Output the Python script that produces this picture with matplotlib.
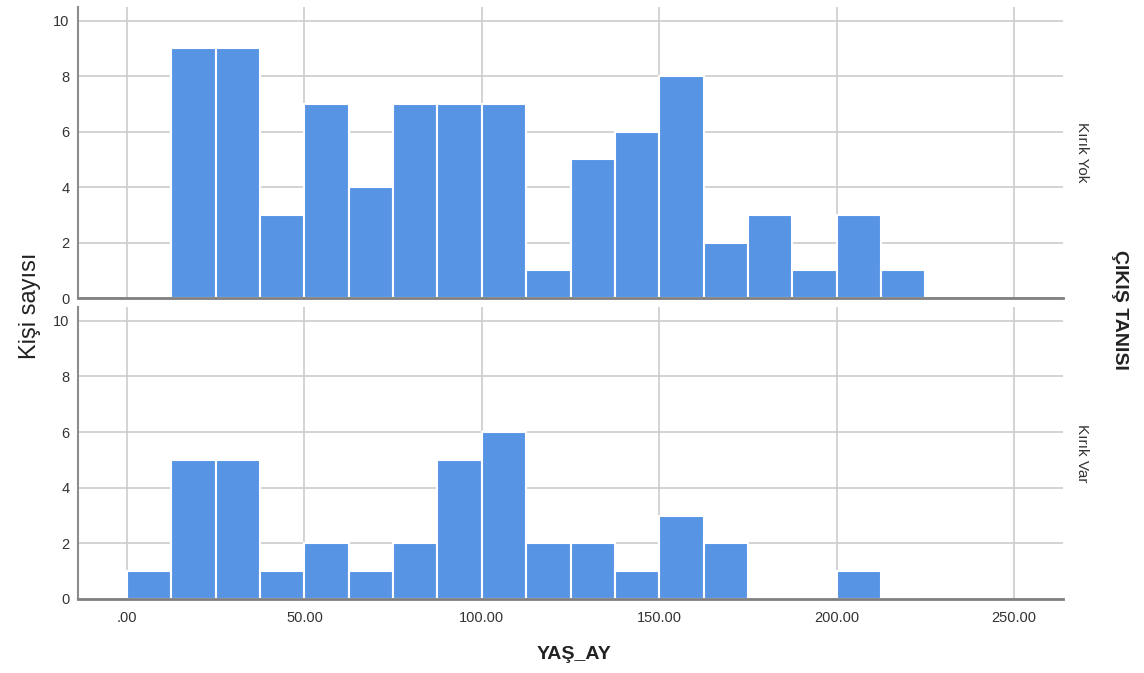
import numpy as np
import matplotlib.pyplot as plt

plt.rcParams['font.family'] = ['Liberation Sans', 'DejaVu Sans']

# Histogram data (bin width 12.5 months, starting at 0)
bin_width = 12.5
bin_count = 18
counts_kirik_yok = [0, 9, 9, 3, 7, 4, 7, 7, 7, 1, 5, 6, 8, 2, 3, 1, 3, 1]
counts_kirik_var = [1, 5, 5, 1, 2, 1, 2, 5, 6, 2, 2, 1, 3, 2, 0, 0, 1, 0]
panel_labels = ["Kırık Yok", "Kırık Var"]
x_ticks = [0, 50, 100, 150, 200, 250]
y_ticks = [0, 2, 4, 6, 8, 10]

bin_starts = np.arange(bin_count) * bin_width
bar_color = '#5795E4'
grid_color = '#cccccc'
text_color = '#333333'

fig = plt.figure(figsize=(11.44, 6.73), dpi=100)
ax_top = fig.add_axes([0.0682, 0.557, 0.861, 0.433])
ax_bot = fig.add_axes([0.0682, 0.110, 0.861, 0.434])

for ax, counts, label in zip([ax_top, ax_bot], [counts_kirik_yok, counts_kirik_var], panel_labels):
    ax.set_axisbelow(True)
    ax.bar(bin_starts, counts, width=bin_width, align='edge',
           color=bar_color, edgecolor='white', linewidth=1.5, zorder=2)
    ax.set_xlim(-13.8, 263.8)
    ax.set_ylim(0, 10.5)
    ax.set_xticks(x_ticks)
    ax.set_yticks(y_ticks)
    ax.grid(True, color=grid_color, linewidth=1.2)
    for s in ['top', 'right']:
        ax.spines[s].set_visible(False)
    ax.spines['left'].set_color('#8c8c8c')
    ax.spines['left'].set_linewidth(1.5)
    ax.spines['bottom'].set_color('#808080')
    ax.spines['bottom'].set_linewidth(2)
    ax.tick_params(length=0, labelsize=10.5, colors=text_color, pad=6)
    ax.text(1.012, 0.5, label, transform=ax.transAxes, rotation=-90,
            ha='left', va='center', fontsize=11, color=text_color)

ax_top.tick_params(labelbottom=False)
ax_bot.set_xticklabels(['.00' if t == 0 else f'{t:.2f}' for t in x_ticks])
ax_bot.tick_params(axis='x', pad=9)

fig.text(0.026, 0.545, 'Kişi sayısı', rotation=90, ha='center', va='center',
         fontsize=17, color='#222222')
fig.text(0.502, 0.027, 'YAŞ_AY', ha='center', va='center',
         fontsize=14, fontweight='bold', color='#222222')
fig.text(0.979, 0.54, 'ÇIKIŞ TANISI', rotation=-90, ha='center', va='center',
         fontsize=14, fontweight='bold', color='#222222')

plt.savefig('out.png', dpi=100)
